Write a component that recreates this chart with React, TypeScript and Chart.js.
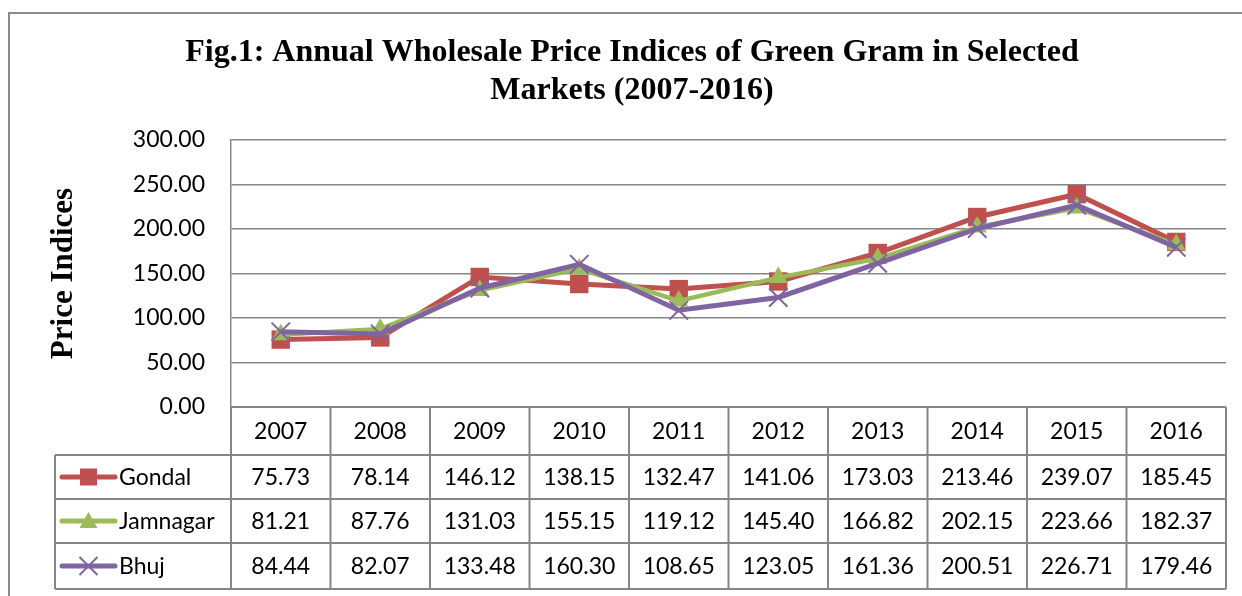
import React, { useEffect, useRef } from "react";
import { Chart, registerables } from "chart.js";

Chart.register(...registerables);

const years = ["2007", "2008", "2009", "2010", "2011", "2012", "2013", "2014", "2015", "2016"];
const gondal = [75.73, 78.14, 146.12, 138.15, 132.47, 141.06, 173.03, 213.46, 239.07, 185.45];
const jamnagar = [81.21, 87.76, 131.03, 155.15, 119.12, 145.4, 166.82, 202.15, 223.66, 182.37];
const bhuj = [84.44, 82.07, 133.48, 160.3, 108.65, 123.05, 161.36, 200.51, 226.71, 179.46];
const seriesNames = ["Gondal", "Jamnagar", "Bhuj"];
const seriesColors = ["#C0504D", "#9BBB59", "#8064A2"];
const titleLines = [
  "Fig.1: Annual Wholesale Price Indices of Green Gram in Selected",
  "Markets (2007-2016)",
];
const yAxisTitle = "Price Indices";

const GRID = "#868686";
const TEXT_FONT = "23px Lato";

const framePlugin = {
  id: "frame",
  beforeDraw(chart: any) {
    const ctx = chart.ctx;
    ctx.save();
    ctx.fillStyle = "#ffffff";
    ctx.fillRect(0, 0, chart.width, chart.height);
    ctx.strokeStyle = "#8a8a8a";
    ctx.lineWidth = 2;
    ctx.beginPath();
    ctx.moveTo(9, chart.height + 5);
    ctx.lineTo(9, 13);
    ctx.lineTo(chart.width + 5, 13);
    ctx.stroke();
    ctx.restore();
  },
};

function drawMarker(ctx: any, kind: number, x: number, y: number, color: string) {
  ctx.save();
  ctx.fillStyle = color;
  ctx.strokeStyle = color;
  if (kind === 0) {
    ctx.fillRect(x - 8.5, y - 8.5, 17, 17);
  } else if (kind === 1) {
    ctx.beginPath();
    ctx.moveTo(x, y - 9);
    ctx.lineTo(x + 9, y + 7);
    ctx.lineTo(x - 9, y + 7);
    ctx.closePath();
    ctx.fill();
  } else {
    ctx.lineWidth = 2;
    ctx.beginPath();
    ctx.moveTo(x - 9, y - 9);
    ctx.lineTo(x + 9, y + 9);
    ctx.moveTo(x + 9, y - 9);
    ctx.lineTo(x - 9, y + 9);
    ctx.stroke();
  }
  ctx.restore();
}

const tablePlugin = {
  id: "dataTable",
  afterDraw(chart: any) {
    const ctx = chart.ctx;
    const ca = chart.chartArea;
    const xs = chart.scales.x;
    const colW = xs.getPixelForValue(1) - xs.getPixelForValue(0);
    const left = ca.left;
    const right = ca.right;
    const legendLeft = 55;
    const top = ca.bottom;
    const rowEdges = [top, top + 48, top + 92, top + 136, top + 182];
    const allSeries = [gondal, jamnagar, bhuj];

    ctx.save();
    ctx.strokeStyle = GRID;
    ctx.lineWidth = 2;
    ctx.beginPath();
    ctx.moveTo(left, rowEdges[0]);
    ctx.lineTo(right, rowEdges[0]);
    for (let r = 1; r < rowEdges.length; r++) {
      ctx.moveTo(legendLeft, rowEdges[r]);
      ctx.lineTo(right, rowEdges[r]);
    }
    for (let c = 0; c <= years.length; c++) {
      const x = left + c * colW;
      ctx.moveTo(x, rowEdges[0]);
      ctx.lineTo(x, rowEdges[4]);
    }
    ctx.moveTo(legendLeft, rowEdges[1]);
    ctx.lineTo(legendLeft, rowEdges[4]);
    ctx.stroke();

    ctx.fillStyle = "#000000";
    ctx.font = TEXT_FONT;
    ctx.textAlign = "center";
    ctx.textBaseline = "middle";
    years.forEach((yr, i) => {
      ctx.fillText(yr, left + (i + 0.5) * colW, (rowEdges[0] + rowEdges[1]) / 2 + 1);
    });
    allSeries.forEach((vals, s) => {
      const cy = (rowEdges[s + 1] + rowEdges[s + 2]) / 2 + 1;
      vals.forEach((v, i) => {
        ctx.fillText(v.toFixed(2), left + (i + 0.5) * colW, cy);
      });
    });

    allSeries.forEach((_, s) => {
      const cy = (rowEdges[s + 1] + rowEdges[s + 2]) / 2;
      ctx.save();
      ctx.strokeStyle = seriesColors[s];
      ctx.lineWidth = 5;
      ctx.lineCap = "round";
      ctx.beginPath();
      ctx.moveTo(62, cy);
      ctx.lineTo(115, cy);
      ctx.stroke();
      ctx.restore();
      drawMarker(ctx, s, 88.5, cy, seriesColors[s]);
      ctx.fillStyle = "#000000";
      ctx.font = TEXT_FONT;
      ctx.textAlign = "left";
      ctx.textBaseline = "middle";
      ctx.fillText(seriesNames[s], 119, cy + 1);
    });
    ctx.restore();
  },
};

export default function App() {
  const ref = useRef<HTMLCanvasElement | null>(null);

  useEffect(() => {
    if (!ref.current) return;
    const chart = new Chart(ref.current, {
      type: "line",
      data: {
        labels: years,
        datasets: [
          {
            label: seriesNames[0],
            data: gondal,
            borderColor: seriesColors[0],
            backgroundColor: seriesColors[0],
            borderWidth: 5,
            pointStyle: "rect",
            pointRadius: 13,
            pointBorderWidth: 0,
            pointBackgroundColor: seriesColors[0],
            order: 3,
            tension: 0,
          },
          {
            label: seriesNames[1],
            data: jamnagar,
            borderColor: seriesColors[1],
            backgroundColor: seriesColors[1],
            borderWidth: 4.5,
            pointStyle: "triangle",
            pointRadius: 11,
            pointBorderWidth: 0,
            pointBackgroundColor: seriesColors[1],
            order: 2,
            tension: 0,
          },
          {
            label: seriesNames[2],
            data: bhuj,
            borderColor: seriesColors[2],
            backgroundColor: seriesColors[2],
            borderWidth: 5,
            pointStyle: "crossRot",
            pointRadius: 13,
            pointBorderWidth: 2,
            pointBorderColor: seriesColors[2],
            order: 1,
            tension: 0,
          },
        ],
      },
      options: {
        responsive: false,
        animation: false,
        devicePixelRatio: 1,
        layout: { padding: { left: 38, right: 16, top: 0, bottom: 0 } },
        plugins: {
          legend: { display: false },
          tooltip: { enabled: false },
          title: {
            display: true,
            text: titleLines,
            color: "#000000",
            font: { family: "'Liberation Serif', 'Times New Roman', serif", size: 32, weight: "bold", lineHeight: 38 / 32 },
            padding: { top: 34, bottom: 30 },
          },
        },
        scales: {
          x: {
            type: "category",
            offset: true,
            grid: { display: false, drawTicks: false },
            border: { display: false },
            ticks: { display: false },
            afterFit(scale: any) {
              scale.height = 189;
            },
          },
          y: {
            min: 0,
            max: 300,
            ticks: {
              stepSize: 50,
              color: "#000000",
              font: { family: "Lato", size: 23 },
              padding: 26,
              callback: (v: any) => Number(v).toFixed(2),
            },
            grid: { color: GRID, lineWidth: 1.5, drawTicks: false },
            border: { display: true, color: GRID, width: 1.5 },
            title: {
              display: true,
              text: yAxisTitle,
              color: "#000000",
              font: { family: "'Liberation Serif', 'Times New Roman', serif", size: 31, weight: "bold" },
              padding: { top: 7, bottom: 0 },
            },
            afterFit(scale: any) {
              scale.width = 193;
            },
          },
        },
      },
      plugins: [framePlugin, tablePlugin],
    });
    return () => chart.destroy();
  }, []);

  return (
    <div style={{ position: "absolute", left: 0, top: 0, width: 1242, height: 596, background: "#fff" }}>
      <canvas ref={ref} width={1242} height={596} style={{ display: "block" }} />
    </div>
  );
}
